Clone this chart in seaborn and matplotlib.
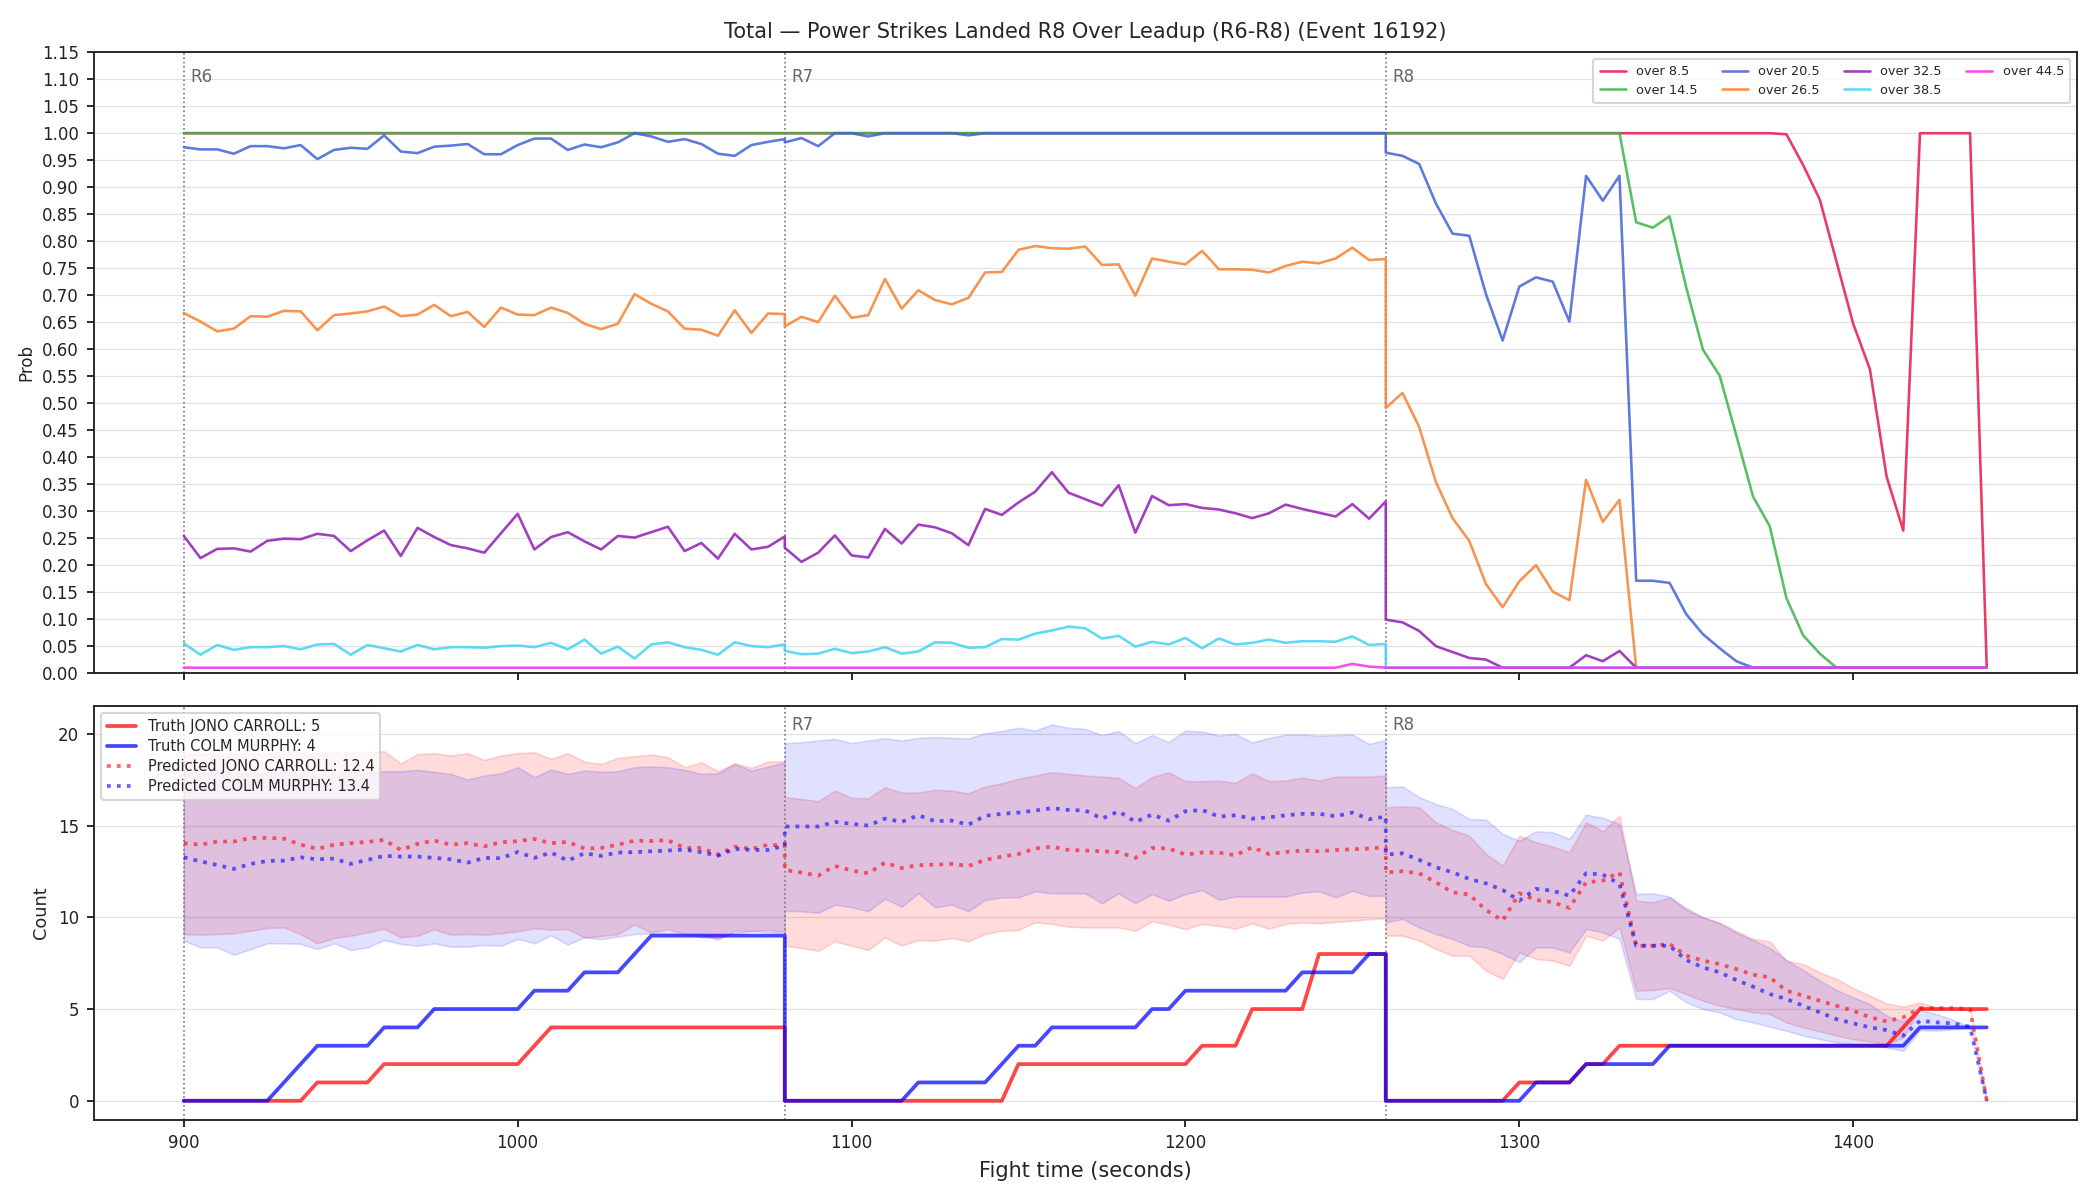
import matplotlib
matplotlib.use("Agg")
import matplotlib.pyplot as plt
import matplotlib.transforms as mtransforms
import pandas as pd
import seaborn as sns

# ---------------- axis structure ----------------
ROUND_STARTS = [900, 1080, 1260]
ROUND_LABELS = ["R6", "R7", "R8"]
SAMPLE_OFFSETS = list(range(0, 181, 5))          # 37 samples per round

LINE_LABELS = ["over 8.5", "over 14.5", "over 20.5", "over 26.5",
               "over 32.5", "over 38.5", "over 44.5"]
LINE_COLORS = ["#e6194B", "#3cb44b", "#4363d8", "#f58231",
               "#911eb4", "#42d4f4", "#f032e6"]

# ---------------- top panel: probabilities (R6 | R7 | R8) ----------------
over_8_5 = ([1.0] * 37 + [1.0] * 37 +
            [1.0] * 24 + [0.998, 0.941, 0.877, 0.762, 0.647, 0.563, 0.364, 0.264,
                          1.0, 1.0, 1.0, 1.0, 0.01])
over_14_5 = ([1.0] * 37 + [1.0] * 37 +
             [1.0] * 15 + [0.835, 0.825, 0.846, 0.714, 0.599, 0.551, 0.44, 0.327,
                           0.272, 0.139, 0.07, 0.036] + [0.01] * 10)
over_20_5 = ([0.974, 0.970, 0.970, 0.962, 0.976, 0.976, 0.972, 0.978, 0.952, 0.969,
              0.973, 0.971, 0.996, 0.966, 0.963, 0.975, 0.977, 0.980, 0.961, 0.961,
              0.978, 0.990, 0.990, 0.969, 0.979, 0.974, 0.983, 1.0, 0.994, 0.984,
              0.989, 0.980, 0.962, 0.958, 0.978, 0.984, 0.989] +
             [0.983, 0.991, 0.976, 1.0, 1.0, 0.994, 1.0, 1.0, 1.0, 1.0, 1.0, 0.996] + [1.0] * 25 +
             [0.964, 0.958, 0.943, 0.870, 0.814, 0.810, 0.702, 0.616, 0.716, 0.733,
              0.725, 0.651, 0.921, 0.875, 0.921, 0.171, 0.171, 0.167, 0.109, 0.072,
              0.046, 0.022] + [0.01] * 15)
over_26_5 = ([0.667, 0.651, 0.633, 0.638, 0.661, 0.660, 0.671, 0.670, 0.635, 0.663,
              0.666, 0.670, 0.679, 0.661, 0.664, 0.682, 0.661, 0.669, 0.641, 0.677,
              0.664, 0.663, 0.677, 0.667, 0.647, 0.637, 0.647, 0.702, 0.684, 0.670,
              0.638, 0.636, 0.625, 0.672, 0.630, 0.666, 0.665] +
             [0.642, 0.660, 0.650, 0.699, 0.658, 0.663, 0.730, 0.675, 0.709, 0.691,
              0.683, 0.695, 0.742, 0.743, 0.784, 0.791, 0.787, 0.786, 0.790, 0.756,
              0.757, 0.699, 0.768, 0.762, 0.757, 0.782, 0.748, 0.748, 0.747, 0.742,
              0.754, 0.762, 0.759, 0.768, 0.788, 0.765, 0.767] +
             [0.491, 0.519, 0.456, 0.354, 0.287, 0.245, 0.165, 0.122, 0.170, 0.200,
              0.151, 0.135, 0.358, 0.280, 0.321] + [0.01] * 22)
over_32_5 = ([0.254, 0.213, 0.230, 0.231, 0.225, 0.245, 0.249, 0.248, 0.258, 0.254,
              0.226, 0.246, 0.264, 0.217, 0.269, 0.252, 0.237, 0.231, 0.223, 0.259,
              0.295, 0.229, 0.252, 0.261, 0.244, 0.229, 0.254, 0.251, 0.261, 0.271,
              0.226, 0.241, 0.212, 0.258, 0.229, 0.234, 0.253] +
             [0.232, 0.206, 0.223, 0.255, 0.218, 0.214, 0.267, 0.240, 0.275, 0.270,
              0.259, 0.237, 0.304, 0.293, 0.316, 0.336, 0.372, 0.334, 0.322, 0.310,
              0.348, 0.260, 0.328, 0.311, 0.313, 0.306, 0.303, 0.296, 0.287, 0.296,
              0.312, 0.304, 0.297, 0.290, 0.313, 0.286, 0.318] +
             [0.099, 0.094, 0.078, 0.050, 0.039, 0.028, 0.025] + [0.01] * 5 +
             [0.033, 0.022, 0.041] + [0.01] * 22)
over_38_5 = ([0.055, 0.034, 0.052, 0.043, 0.048, 0.048, 0.050, 0.044, 0.053, 0.054,
              0.034, 0.052, 0.046, 0.040, 0.052, 0.044, 0.048, 0.048, 0.047, 0.050,
              0.051, 0.048, 0.056, 0.044, 0.062, 0.036, 0.049, 0.027, 0.053, 0.057,
              0.048, 0.043, 0.034, 0.057, 0.050, 0.048, 0.053] +
             [0.041, 0.035, 0.036, 0.045, 0.037, 0.040, 0.048, 0.036, 0.040, 0.057,
              0.056, 0.047, 0.048, 0.063, 0.062, 0.073, 0.079, 0.086, 0.083, 0.064,
              0.069, 0.049, 0.058, 0.053, 0.065, 0.046, 0.064, 0.053, 0.056, 0.062,
              0.056, 0.059, 0.059, 0.058, 0.068, 0.052, 0.054] +
             [0.01] * 37)
over_44_5 = ([0.01] * 37 +
             [0.01] * 34 + [0.017, 0.012, 0.01] +
             [0.01] * 37)
PROB_SERIES = [over_8_5, over_14_5, over_20_5, over_26_5, over_32_5, over_38_5, over_44_5]

# ---------------- bottom panel: counts (R6 | R7 | R8) ----------------
truth_carroll = ([0] * 8 + [1] * 4 + [2] * 9 + [3] + [4] * 15 +
                 [0] * 14 + [2] * 11 + [3] * 3 + [5] * 4 + [8] * 5 +
                 [0] * 8 + [1] * 4 + [2] * 2 + [3] * 17 + [4] + [5] * 5)
truth_murphy = ([0] * 6 + [1, 2] + [3] * 4 + [4] * 3 + [5] * 6 + [6] * 3 + [7] * 3 + [8] + [9] * 9 +
                [0] * 8 + [1] * 5 + [2] + [3] * 2 + [4] * 6 + [5] * 2 + [6] * 7 + [7] * 4 + [8] * 2 +
                [0] * 9 + [1] * 3 + [2] * 5 + [3] * 15 + [4] * 5)

pred_carroll = ([14.04, 13.96, 14.13, 14.13, 14.33, 14.33, 14.29, 13.96, 13.73, 13.96,
                 14.04, 14.11, 14.22, 13.67, 14.0, 14.18, 13.96, 14.04, 13.87, 14.09,
                 14.15, 14.27, 14.04, 14.11, 13.75, 13.78, 13.96, 14.18, 14.16, 14.2,
                 13.78, 13.78, 13.42, 13.85, 13.73, 13.95, 13.91] +
                [12.58, 12.44, 12.27, 12.8, 12.55, 12.4, 12.98, 12.69, 12.84, 12.87,
                 12.91, 12.8, 13.13, 13.31, 13.45, 13.75, 13.85, 13.67, 13.64, 13.6,
                 13.55, 13.24, 13.78, 13.75, 13.42, 13.53, 13.53, 13.38, 13.82, 13.45,
                 13.56, 13.64, 13.6, 13.67, 13.71, 13.75, 13.82] +
                [12.45, 12.51, 12.4, 11.91, 11.36, 11.24, 10.4, 9.82, 11.31, 10.95,
                 10.82, 10.51, 11.91, 12.0, 12.45, 8.45, 8.45, 8.55, 7.91, 7.64,
                 7.45, 7.18, 6.87, 6.73, 6.0, 5.73, 5.45, 5.18, 4.91, 4.55,
                 4.33, 4.55, 5.05, 5.05, 5.05, 5.0, 0.0])
pred_carroll_lo = ([9.09, 9.05, 9.09, 9.13, 9.27, 9.42, 9.45, 9.09, 8.58, 8.87,
                    9.0, 9.18, 9.38, 8.91, 9.0, 9.35, 9.05, 9.09, 9.05, 9.13,
                    9.24, 9.4, 9.33, 9.35, 8.91, 8.98, 9.09, 9.6, 9.18, 9.35,
                    9.09, 9.09, 8.78, 9.27, 9.27, 9.31, 9.22] +
                   [8.45, 8.33, 8.18, 8.69, 8.45, 8.22, 8.91, 8.45, 8.76, 8.73,
                    8.87, 8.69, 9.09, 9.27, 9.31, 9.73, 9.64, 9.49, 9.45, 9.45,
                    9.45, 9.27, 9.78, 9.6, 9.35, 9.64, 9.53, 9.38, 9.67, 9.38,
                    9.64, 9.71, 9.67, 9.75, 9.82, 9.89, 9.96] +
                   [9.0, 9.0, 8.73, 8.27, 7.91, 7.91, 7.09, 6.64, 8.09, 7.73,
                    7.64, 7.36, 9.0, 8.73, 9.45, 6.0, 6.04, 6.15, 5.82, 5.45,
                    5.18, 5.0, 4.82, 4.73, 4.27, 4.0, 3.78, 3.55, 3.36, 3.24,
                    3.09, 3.45, 5.0, 5.0, 5.0, 5.0, 0.0])
pred_carroll_hi = ([18.9, 18.95, 18.86, 18.9, 18.95, 18.96, 19.04, 18.98, 18.95, 19.0,
                    18.96, 19.02, 19.05, 18.4, 18.9, 18.95, 18.82, 18.95, 18.58, 18.82,
                    18.95, 19.0, 18.64, 18.95, 18.49, 18.36, 18.69, 18.78, 18.87, 18.73,
                    18.18, 18.45, 17.96, 18.4, 18.15, 18.49, 18.49] +
                   [16.55, 16.45, 16.33, 16.91, 16.51, 16.49, 17.09, 16.8, 16.8, 16.95,
                    16.91, 16.76, 17.13, 17.31, 17.55, 17.73, 17.91, 17.82, 17.73, 17.67,
                    17.6, 17.05, 17.64, 17.91, 17.42, 17.42, 17.45, 17.33, 17.85, 17.42,
                    17.45, 17.62, 17.45, 17.67, 17.67, 17.67, 17.73] +
                   [16.0, 16.04, 16.0, 15.18, 14.76, 14.45, 13.45, 12.82, 14.45, 14.09,
                    13.85, 13.55, 15.18, 14.69, 15.55, 10.91, 10.82, 11.09, 10.4, 10.0,
                    9.73, 9.24, 8.82, 8.69, 7.64, 7.45, 7.0, 6.64, 6.15, 5.73,
                    5.31, 5.13, 5.36, 5.09, 5.0, 4.98, 0.0])

pred_murphy = ([13.27, 13.05, 12.85, 12.64, 12.91, 13.07, 13.09, 13.27, 13.16, 13.2,
                12.91, 13.13, 13.35, 13.31, 13.31, 13.24, 13.16, 12.98, 13.24, 13.22,
                13.56, 13.24, 13.53, 13.09, 13.49, 13.35, 13.53, 13.55, 13.6, 13.64,
                13.69, 13.55, 13.36, 13.73, 13.67, 13.67, 13.91] +
               [14.95, 14.95, 14.95, 15.2, 15.09, 15.0, 15.38, 15.2, 15.56, 15.24,
                15.27, 15.05, 15.53, 15.64, 15.71, 15.82, 15.95, 15.85, 15.82, 15.38,
                15.78, 15.2, 15.6, 15.27, 15.78, 15.85, 15.49, 15.56, 15.38, 15.45,
                15.56, 15.64, 15.64, 15.51, 15.71, 15.35, 15.49] +
               [13.42, 13.49, 13.13, 12.73, 12.45, 12.09, 11.85, 11.49, 10.91, 11.55,
                11.45, 11.18, 12.4, 12.33, 11.82, 8.45, 8.45, 8.45, 7.67, 7.27,
                7.0, 6.58, 6.22, 5.82, 5.55, 5.18, 4.82, 4.45, 4.22, 4.0,
                3.85, 3.55, 4.36, 4.27, 4.22, 4.04, 0.0])
pred_murphy_lo = ([8.73, 8.36, 8.36, 7.96, 8.27, 8.58, 8.58, 8.55, 8.27, 8.58,
                   8.22, 8.36, 8.76, 8.55, 8.45, 8.58, 8.4, 8.4, 8.49, 8.45,
                   8.82, 8.58, 9.02, 8.51, 8.91, 8.8, 8.95, 9.09, 9.13, 9.09,
                   9.09, 8.91, 8.87, 9.13, 9.24, 9.18, 9.15] +
                  [10.36, 10.33, 10.25, 10.69, 10.55, 10.33, 11.02, 10.58, 11.31, 10.55,
                   10.69, 10.33, 10.95, 11.09, 11.09, 11.42, 11.31, 11.31, 11.31, 10.76,
                   11.31, 10.76, 11.27, 10.91, 11.27, 11.49, 10.95, 11.13, 11.13, 11.13,
                   11.13, 11.35, 11.42, 11.09, 11.45, 11.16, 11.18] +
                  [9.73, 9.91, 9.45, 9.09, 8.82, 8.45, 8.36, 8.0, 7.55, 8.36,
                   8.36, 8.09, 9.36, 9.18, 8.82, 5.55, 5.55, 6.0, 5.36, 5.0,
                   4.82, 4.45, 4.27, 4.04, 3.82, 3.55, 3.36, 3.18, 3.09, 3.0,
                   2.91, 2.73, 3.85, 3.82, 3.91, 3.96, 0.0])
pred_murphy_hi = ([17.9, 17.85, 17.95, 17.9, 17.8, 17.9, 17.95, 17.85, 17.7, 17.85,
                   17.95, 17.9, 17.96, 17.96, 18.04, 17.93, 17.82, 17.51, 17.73, 17.85,
                   18.18, 17.64, 18.05, 17.82, 18.0, 17.93, 17.96, 18.18, 18.22, 18.18,
                   18.04, 17.82, 17.85, 18.36, 18.0, 18.22, 18.45] +
                  [19.49, 19.55, 19.64, 19.73, 19.49, 19.64, 19.76, 19.64, 19.78, 19.82,
                   19.78, 19.75, 20.04, 20.15, 20.33, 20.18, 20.51, 20.33, 20.27, 19.93,
                   20.15, 19.49, 19.93, 19.56, 20.18, 20.13, 19.91, 20.0, 19.53, 19.78,
                   19.96, 19.96, 19.91, 19.93, 19.96, 19.45, 19.67] +
                  [17.09, 17.13, 16.55, 16.18, 15.91, 15.36, 15.33, 14.55, 14.18, 14.69,
                   14.64, 14.27, 15.6, 15.42, 15.09, 11.27, 11.31, 11.13, 10.51, 10.0,
                   9.67, 9.16, 8.76, 8.33, 7.67, 7.13, 6.55, 6.04, 5.64, 5.27,
                   4.64, 4.33, 4.95, 4.73, 4.4, 4.04, 0.0])

TRUTH_LABELS = ["Truth JONO CARROLL: 5", "Truth COLM MURPHY: 4"]
PRED_LABELS = ["Predicted JONO CARROLL: 12.4", "Predicted COLM MURPHY: 13.4"]
TITLE = "Total \u2014 Power Strikes Landed R8 Over Leadup (R6-R8) (Event 16192)"

# ---------------- build frames ----------------
times = [start + off for start in ROUND_STARTS for off in SAMPLE_OFFSETS]
order = list(range(len(times)))

# ---------------- style ----------------
sns.set_theme(style="ticks")
plt.rcParams.update({
    "font.family": ["DejaVu Sans"],
    "axes.edgecolor": "#222222",
    "axes.linewidth": 0.9,
    "xtick.major.size": 3.5,
    "ytick.major.size": 3.5,
    "xtick.major.width": 0.9,
    "ytick.major.width": 0.9,
    "xtick.color": "#222222",
    "ytick.color": "#222222",
    "xtick.labelsize": 8,
    "ytick.labelsize": 8,
    "legend.fancybox": True,
})

fig, (ax1, ax2) = plt.subplots(2, 1, figsize=(14, 8), dpi=150, sharex=True,
                               gridspec_kw={"height_ratios": [3, 2]})
fig.subplots_adjust(left=0.0446, right=0.989, top=0.9565, bottom=0.067, hspace=0.063)

# ---------------- top panel ----------------
for label, color, vals in zip(LINE_LABELS, LINE_COLORS, PROB_SERIES):
    df = pd.DataFrame({"time": times, "prob": vals, "order": order})
    sns.lineplot(data=df, x="time", y="prob", ax=ax1, color=color, lw=1.25,
                 alpha=0.85, estimator=None, sort=False, label=label)

ax1.set_ylim(0, 1.15)
ax1.set_yticks([i * 0.05 for i in range(24)])
ax1.set_yticklabels([f"{i * 0.05:.2f}" for i in range(24)])
ax1.set_ylabel("Prob", fontsize=8, labelpad=3)
ax1.set_xlabel("")
ax1.set_title(TITLE, fontsize=10, pad=7)
ax1.grid(axis="y", color="#e2e2e2", lw=0.6)
ax1.set_axisbelow(True)
ax1.legend(loc="upper right", ncol=4, fontsize=6.2, frameon=True,
           handlelength=2.0, handletextpad=0.8, columnspacing=1.9,
           borderpad=0.5, labelspacing=0.45)

# ---------------- bottom panel ----------------
band_frame = pd.DataFrame({"time": times,
                           "c_lo": pred_carroll_lo, "c_hi": pred_carroll_hi,
                           "m_lo": pred_murphy_lo, "m_hi": pred_murphy_hi})
ax2.fill_between(band_frame["time"], band_frame["c_lo"], band_frame["c_hi"],
                 facecolor="red", edgecolor="red", alpha=0.14, lw=0.8)
ax2.fill_between(band_frame["time"], band_frame["m_lo"], band_frame["m_hi"],
                 facecolor="blue", edgecolor="blue", alpha=0.12, lw=0.8)

for vals, color, label in [(truth_carroll, "red", TRUTH_LABELS[0]),
                           (truth_murphy, "blue", TRUTH_LABELS[1])]:
    df = pd.DataFrame({"time": times, "count": vals})
    sns.lineplot(data=df, x="time", y="count", ax=ax2, color=color, lw=1.8,
                 alpha=0.72, estimator=None, sort=False, label=label)
for vals, color, label in [(pred_carroll, "red", PRED_LABELS[0]),
                           (pred_murphy, "blue", PRED_LABELS[1])]:
    df = pd.DataFrame({"time": times, "count": vals})
    sns.lineplot(data=df, x="time", y="count", ax=ax2, color=color, lw=1.8,
                 alpha=0.6, linestyle=":", estimator=None, sort=False, label=label)

ax2.set_ylabel("Count", fontsize=8.5)
ax2.set_xlabel("Fight time (seconds)", fontsize=10)
ax2.grid(axis="y", color="#e2e2e2", lw=0.6)
ax2.set_axisbelow(True)
leg2 = ax2.legend(loc="upper left", fontsize=7, frameon=True, handlelength=2.0,
                  borderpad=0.4, labelspacing=0.35)
leg2.set_zorder(10)

# ---------------- round markers ----------------
for ax in (ax1, ax2):
    trans = mtransforms.blended_transform_factory(ax.transData, ax.transAxes)
    for start, name in zip(ROUND_STARTS, ROUND_LABELS):
        ax.axvline(start, color="#777777", ls=":", lw=0.8, zorder=1)
        if ax is ax2 and start == ROUND_STARTS[0]:
            continue  # hidden behind the legend in the reference
        ax.text(start + 2, 0.975, name, transform=trans, ha="left", va="top",
                fontsize=8, color="#666666", zorder=1)

fig.savefig("out.png", dpi=150)
